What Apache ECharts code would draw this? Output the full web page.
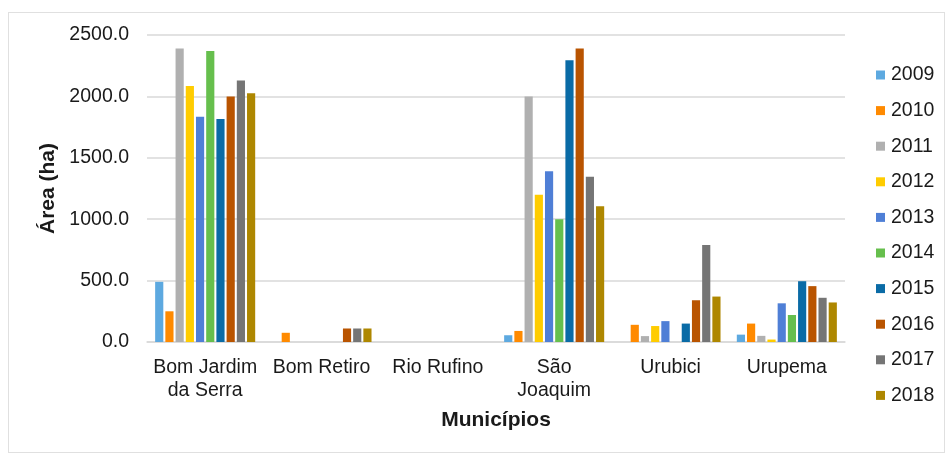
<!DOCTYPE html>
<html>
<head>
<meta charset="utf-8">
<script src="https://cdn.jsdelivr.net/npm/echarts@6/dist/echarts.min.js"></script>
<style>
  html, body { margin: 0; padding: 0; background: #fff; }
  #chart { width: 949px; height: 455px; }
  #frame { position: absolute; left: 8px; top: 12px; width: 937px; height: 441px; border: 1px solid #e0e0e0; box-sizing: border-box; pointer-events: none; }
</style>
</head>
<body>
<div id="chart"></div>
<div id="frame"></div>
<script>
// municípios
const categories = ['Bom Jardim\nda Serra', 'Bom Retiro', 'Rio Rufino', 'São\nJoaquim', 'Urubici', 'Urupema'];
const years = ['2009', '2010', '2011', '2012', '2013', '2014', '2015', '2016', '2017', '2018'];
const yTicks = [0, 500, 1000, 1500, 2000, 2500];

// área (ha) por ano, uma entrada por município
const v2009 = [490, 0, 0, 55, 0, 60];
const v2010 = [250, 75, 0, 90, 140, 150];
const v2011 = [2390, 0, 0, 2000, 48, 50];
const v2012 = [2085, 0, 0, 1200, 130, 20];
const v2013 = [1835, 0, 0, 1390, 170, 315];
const v2014 = [2370, 0, 0, 1000, 0, 220];
const v2015 = [1815, 0, 0, 2295, 150, 495];
const v2016 = [2000, 110, 0, 2390, 340, 455];
const v2017 = [2130, 110, 0, 1345, 790, 360];
const v2018 = [2025, 110, 0, 1105, 370, 322];

const values = [v2009, v2010, v2011, v2012, v2013, v2014, v2015, v2016, v2017, v2018];
const colors = ['#5DA9E0', '#FF8A00', '#B0B0B0', '#FFCC00', '#4F7FD6', '#66BF4D', '#0A6BA6', '#B95400', '#757575', '#AE8700'];

const chart = echarts.init(document.getElementById('chart'));

const series = years.map(function (y, i) {
    return {
        name: y,
        type: 'bar',
        data: values[i],
        barGap: '25%',
        barCategoryGap: '14%',
        itemStyle: { color: colors[i] }
    };
});

const option = {
    animation: false,
    textStyle: { fontFamily: 'Liberation Sans, Arial, sans-serif' },
    grid: { left: 147, right: 104, top: 35, bottom: 113 },
    legend: {
        orient: 'vertical',
        left: 871,
        top: 60,
        itemWidth: 9,
        itemHeight: 9,
        itemGap: 15.6,
        icon: 'rect',
        textStyle: { fontSize: 19.5, color: '#1a1a1a', padding: [0, 0, 0, 1] },
        data: years
    },
    xAxis: {
        type: 'category',
        data: categories,
        name: 'Municípios',
        nameLocation: 'middle',
        nameGap: 68,
        nameTextStyle: { fontSize: 21, fontWeight: 'bold', color: '#1a1a1a' },
        axisLine: { lineStyle: { color: '#d9d9d9', width: 1.5 } },
        axisTick: { show: false },
        axisLabel: { fontSize: 19.5, color: '#1a1a1a', margin: 14, lineHeight: 23, interval: 0 }
    },
    yAxis: {
        type: 'value',
        min: yTicks[0],
        max: yTicks[yTicks.length - 1],
        interval: 500,
        name: 'Área (ha)',
        nameLocation: 'middle',
        nameGap: 87,
        nameTextStyle: { fontSize: 21, fontWeight: 'bold', color: '#1a1a1a' },
        axisLine: { show: false },
        axisTick: { show: false },
        splitLine: { lineStyle: { color: '#d9d9d9', width: 1.5 } },
        axisLabel: {
            fontSize: 19.5,
            color: '#1a1a1a',
            margin: 18,
            formatter: function (v) { return v.toFixed(1); }
        }
    },
    series: series
};

chart.setOption(option);
window.onresize = function () {
    chart.resize();
};
</script>
</body>
</html>
